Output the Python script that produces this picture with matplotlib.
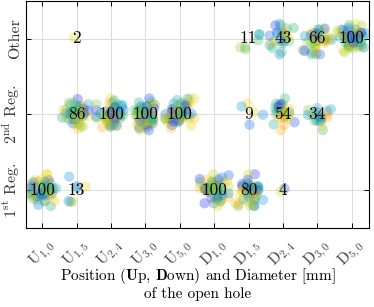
import numpy as np
import matplotlib
matplotlib.use('Agg')
import matplotlib.pyplot as plt
from matplotlib.colors import LinearSegmentedColormap

plt.rcParams['font.family'] = 'serif'
plt.rcParams['font.serif'] = ['cmr10']
plt.rcParams['mathtext.fontset'] = 'cm'
plt.rcParams['axes.unicode_minus'] = False

# categories
positions = ['U_{1,0}', 'U_{1,5}', 'U_{2,4}', 'U_{3,0}', 'U_{5,0}',
             'D_{1,0}', 'D_{1,5}', 'D_{2,4}', 'D_{3,0}', 'D_{5,0}']
regions = [r'1$^{\rm st}$ Reg.', r'2$^{\rm nd}$ Reg.', 'Other']
n_samples = 56

# share of samples (%) ending in each region, per position (0 = none)
pct_1st = [100, 13, 0, 0, 0, 100, 80, 4, 0, 0]
pct_2nd = [0, 86, 100, 100, 100, 0, 9, 54, 34, 0]
pct_other = [0, 2, 0, 0, 0, 0, 11, 43, 66, 100]

cmap = LinearSegmentedColormap.from_list(
    'pts', ['#2020ff', '#0098d8', '#30b868', '#f0dc00', '#ffa020'])

fig = plt.figure(figsize=(3.74, 3.07), dpi=100)
ax = fig.add_axes([0.0695, 0.257, 0.917, 0.741])

rng = np.random.default_rng(11)  # jitter only
for xi in range(len(positions)):
    order = rng.permutation(n_samples)
    start = 0
    for yi, pcts in enumerate([pct_1st, pct_2nd, pct_other]):
        p = pcts[xi]
        if p == 0:
            continue
        k = int(round(p * n_samples / 100))
        idx = order[start:start + k]
        start += k
        dx = np.clip(rng.normal(0, 0.2, k), -0.42, 0.42)
        dy = np.clip(rng.normal(0, 0.1, k), -0.21, 0.21)
        ax.scatter(xi + dx, yi + dy, s=55, c=cmap(idx / (n_samples - 1)),
                   alpha=0.3, edgecolors='none', zorder=2)
        ax.text(xi, yi, str(p), ha='center', va='center', fontsize=12.5,
                color='black', zorder=3)

ax.set_xlim(-0.47, 9.5)
ax.set_ylim(-0.5, 2.5)
ax.set_xticks(range(len(positions)))
ax.set_xticklabels([r'$\mathrm{%s}$' % p for p in positions], rotation=45,
                   ha='center', fontsize=11, color='#404040')
ax.set_yticks(range(len(regions)))
ax.set_yticklabels(regions, rotation=90, va='center', fontsize=11.5,
                   color='#333333')
ax.tick_params(direction='in', top=True, right=True, length=3.5, width=0.7)
ax.tick_params(axis='x', pad=6)
ax.tick_params(axis='y', pad=3)
ax.grid(True, color='#dddddd', linewidth=0.8, zorder=0)
ax.set_axisbelow(True)
for sp in ax.spines.values():
    sp.set_linewidth(0.8)
ax.set_xlabel(r'Position ($\mathbf{U}$p, $\mathbf{D}$own) and Diameter [mm]'
              '\nof the open hole', fontsize=11, linespacing=1.15)
ax.xaxis.set_label_coords(0.5, -0.165)

fig.savefig('out.png', dpi=100)
